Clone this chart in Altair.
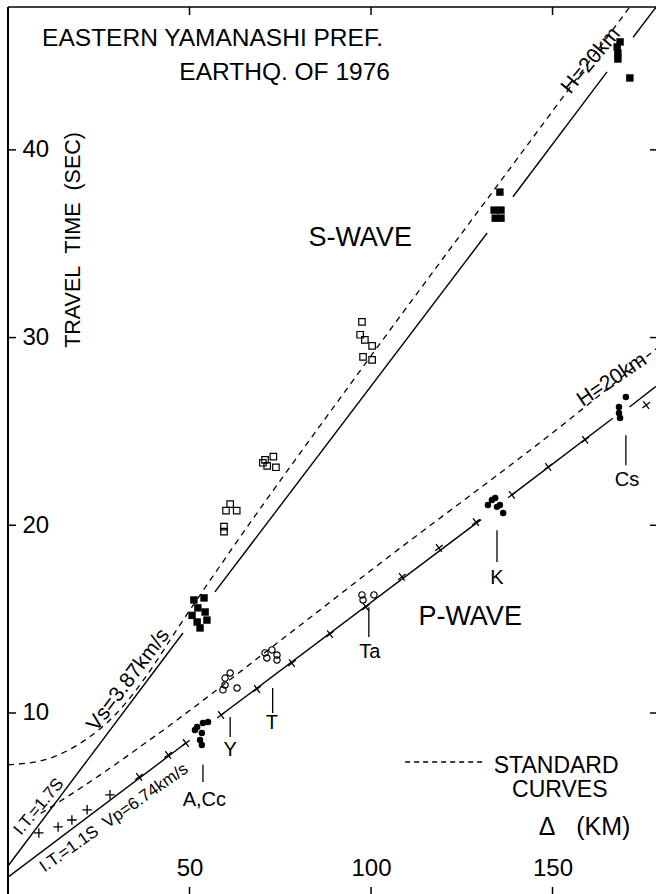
import altair as alt
import pandas as pd

FONT = "Liberation Sans"
NB = "\u00a0"

# ---------------- data (Δ in km, travel time in s) -------------
s_fill_d = [51.2, 54.0, 52.3, 50.7, 54.3, 52.1, 54.8, 52.9,
            135.5, 133.9, 135.8, 134.2, 135.8,
            168.6, 167.8, 168.0, 168.0, 171.3]
s_fill_t = [16.02, 16.13, 15.60, 15.20, 15.38, 14.85, 14.95, 14.53,
            37.75, 36.79, 36.79, 36.36, 36.36,
            45.75, 45.48, 45.16, 44.84, 43.83]
s_open_d = [59.5, 59.5, 60.05, 61.2, 63.0,
            70.8, 73.1, 71.4, 73.8, 70.2,
            97.5, 97.0, 98.3, 100.3, 97.8, 100.3]
s_open_t = [19.93, 19.66, 20.78, 21.13, 20.78,
            23.48, 23.66, 23.16, 23.09, 23.33,
            30.84, 30.15, 29.88, 29.56, 28.97, 28.81]

p_fill_d = [52.1, 53.7, 55.1, 51.5, 53.4, 52.9, 53.4,
            133.3, 134.2, 135.5, 134.7, 136.4, 132.2,
            170.2, 168.3, 168.3, 168.6]
p_fill_t = [9.25, 9.47, 9.52, 9.09, 8.93, 8.56, 8.30,
            21.35, 21.45, 21.08, 20.98, 20.66, 21.08,
            26.83, 26.30, 25.98, 25.72]
p_open_d = [61.2, 59.8, 59.8, 59.2, 63.1,
            70.8, 72.7, 74.1, 71.3, 74.1,
            97.5, 97.8, 100.8]
p_open_t = [12.13, 11.86, 11.49, 11.23, 11.33,
            13.20, 13.36, 13.09, 12.93, 12.82,
            16.29, 16.02, 16.29]

s_line_seg = [1, 1, 2, 2, 3, 3, 4, 4]
s_line_d = [0.0, 48.2, 57.0, 132.0, 139.1, 165.0, 172.2, 178.5]
s_line_t = [1.85, 14.26, 16.45, 35.57, 37.50, 44.15, 46.00, 47.60]
p_line_seg = [1, 1, 2, 2, 3, 3, 4, 4]
p_line_d = [0.0, 49.0, 58.7, 130.3, 138.8, 166.6, 171.2, 178.5]
p_line_t = [1.25, 8.40, 9.89, 20.30, 21.62, 25.70, 26.30, 27.40]

cross_up_d = [8.5, 13.8, 17.6, 21.8, 28.1]
cross_up_t = [3.61, 3.93, 4.30, 4.84, 5.64]
cross_on_d = [36.1, 44.1, 49.0, 58.7, 68.6, 78.2, 88.7, 98.6,
              108.5, 118.7, 128.9, 138.8, 148.8, 159.0, 175.8]
cross_on_t = [6.60, 7.77, 8.40, 9.89, 11.28, 12.66, 14.20, 15.64,
              17.25, 18.79, 20.17, 21.62, 23.11, 24.55, 26.40]

std_s_d = [0, 10, 20, 30, 40, 45, 59, 95, 144, 178.5]
std_s_t = [7.24, 7.5, 8.4, 10.0, 12.5, 14.0, 18.0, 27.7, 40.5, 49.5]
std_p_d = [9, 20, 40, 80, 100, 157, 178.5]
std_p_t = [4.65, 6.0, 8.7, 14.6, 17.6, 26.0, 29.4]
legend_d = [109.4, 131.7]
legend_t = [7.39, 7.39]

st_name = ["A,Cc", "Y", "T", "Ta", "K", "Cs"]
st_d = [53.7, 61.2, 72.9, 99.4, 134.7, 170.2]
st_top = [7.24, 9.79, 11.33, 15.63, 19.74, 24.80]
st_bot = [6.33, 8.72, 10.00, 14.05, 18.04, 23.20]
st_lab_d = [54.1, 61.2, 72.7, 99.7, 134.7, 170.5]
st_lab_t = [5.38, 8.04, 9.47, 13.25, 17.19, 22.40]

ann_text = ["EASTERN YAMANASHI PREF.", "EARTHQ. OF 1976", "S-WAVE", "P-WAVE",
            f"TRAVEL{NB}{NB}TIME{NB}{NB}(SEC)", "H=20km", "H=20km", "Vs=3.87km/s",
            "I.T.=1.7S", f"I.T.=1.1S{NB}{NB}Vp=6.74km/s", "STANDARD", "CURVES",
            f"Δ{NB}{NB}{NB}(KM)"]
ann_d = [9.4, 105.2, 97.0, 127.3, 18.2, 160.6, 166.4, 33.2, 8.5, 29.2, 151.0, 152.0, 158.8]
ann_t = [45.9, 44.07, 35.3, 15.1, 35.2, 44.75, 27.74, 11.75, 5.0, 4.41, 7.18, 5.9, 3.93]
ann_size = [24.5, 24.5, 27, 27, 21.5, 21, 21, 21, 17, 17, 23, 23, 25]
ann_angle = [0, 0, 0, 0, 270, 310, 326, 307, 310, 325, 0, 0, 0]
ann_align = ["left", "right", "center", "center", "center", "center", "center",
             "center", "center", "center", "center", "center", "center"]

x_ticks = [50, 100, 150]
y_ticks = [10, 20, 30, 40]

W, H = 648, 887
xs = alt.Scale(domain=[0, 178.5], nice=False, zero=False)
ys = alt.Scale(domain=[0.357, 47.61], nice=False, zero=False)

ax_bottom = alt.Axis(orient="bottom", values=x_ticks, domain=False, grid=False,
                     ticks=False,
                     labelFont=FONT, labelFontSize=24, labelColor="black",
                     labelBaseline="alphabetic", labelPadding=-19, labelFlush=False,
                     title=None)
ax_left = alt.Axis(orient="left", values=y_ticks, domain=False, grid=False,
                   ticks=False, labelFont=FONT, labelFontSize=24,
                   labelColor="black", labelAlign="left", labelBaseline="middle",
                   labelPadding=-14, labelFlush=False, title=None)


def X(field="d"):
    return alt.X(f"{field}:Q", scale=xs, axis=ax_bottom, title=None)


def Y(field="t"):
    return alt.Y(f"{field}:Q", scale=ys, axis=ax_left, title=None)


s_line_df = pd.DataFrame({"d": s_line_d, "t": s_line_t, "seg": s_line_seg})
p_line_df = pd.DataFrame({"d": p_line_d, "t": p_line_t, "seg": p_line_seg})

s_line = alt.Chart(s_line_df).mark_line(color="black", strokeWidth=1.4, clip=True).encode(
    x=X(), y=Y(), detail="seg:N")
p_line = alt.Chart(p_line_df).mark_line(color="black", strokeWidth=1.4, clip=True).encode(
    x=X(), y=Y(), detail="seg:N")

dash = [6, 5]
std_s = alt.Chart(pd.DataFrame({"d": std_s_d, "t": std_s_t})).mark_line(
    color="black", strokeWidth=1.3, strokeDash=dash, interpolate="monotone", clip=True
).encode(x=X(), y=Y())
std_p = alt.Chart(pd.DataFrame({"d": std_p_d, "t": std_p_t})).mark_line(
    color="black", strokeWidth=1.3, strokeDash=dash, interpolate="monotone", clip=True
).encode(x=X(), y=Y())
legend_line = alt.Chart(pd.DataFrame({"d": legend_d, "t": legend_t})).mark_line(
    color="black", strokeWidth=1.3, strokeDash=[5, 4]
).encode(x=X(), y=Y())

PLUS = "M-1,0L1,0M0,-1L0,1"
cross_up = alt.Chart(pd.DataFrame({"d": cross_up_d, "t": cross_up_t})).mark_point(
    shape=PLUS, filled=False, stroke="black", strokeWidth=1.3, size=90, opacity=1
).encode(x=X(), y=Y())
cross_on = alt.Chart(pd.DataFrame({"d": cross_on_d, "t": cross_on_t})).mark_point(
    shape=PLUS, filled=False, stroke="black", strokeWidth=1.3, size=90, opacity=1, angle=323
).encode(x=X(), y=Y())

s_fill = alt.Chart(pd.DataFrame({"d": s_fill_d, "t": s_fill_t})).mark_point(
    shape="square", filled=True, color="black", size=55, opacity=1
).encode(x=X(), y=Y())
s_open = alt.Chart(pd.DataFrame({"d": s_open_d, "t": s_open_t})).mark_point(
    shape="square", filled=False, color="black", strokeWidth=1.2, size=42, opacity=1
).encode(x=X(), y=Y())
p_fill = alt.Chart(pd.DataFrame({"d": p_fill_d, "t": p_fill_t})).mark_point(
    shape="circle", filled=True, color="black", size=42, opacity=1
).encode(x=X(), y=Y())
p_open = alt.Chart(pd.DataFrame({"d": p_open_d, "t": p_open_t})).mark_point(
    shape="circle", filled=False, color="black", strokeWidth=1.2, size=40, opacity=1
).encode(x=X(), y=Y())

st_df = pd.DataFrame({"name": st_name, "d": st_d, "t": st_top, "bot": st_bot})
st_rule = alt.Chart(st_df).mark_rule(color="black", strokeWidth=1.3).encode(
    x=X(), y=Y(), y2="bot:Q")
st_lab_df = pd.DataFrame({"name": st_name, "d": st_lab_d, "t": st_lab_t})
st_text = alt.Chart(st_lab_df).mark_text(
    font=FONT, fontSize=20, color="black", align="center", baseline="middle"
).encode(x=X(), y=Y(), text="name:N")

# frame (left and top borders) and inward ticks, drawn as short rules
frame_left = alt.Chart().mark_rule(color="black", strokeWidth=2).encode(
    x=alt.value(0), y=alt.value(0), y2=alt.value(H))
frame_top = alt.Chart().mark_rule(color="black", strokeWidth=1.5).encode(
    x=alt.value(0), x2=alt.value(W), y=alt.value(0))
xt_df = pd.DataFrame({"d": x_ticks})
yt_df = pd.DataFrame({"t": y_ticks})
tick_bottom = alt.Chart(xt_df).mark_rule(color="black", strokeWidth=1.5).encode(
    x=X(), y=alt.value(H - 7), y2=alt.value(H))
tick_top = alt.Chart(xt_df).mark_rule(color="black", strokeWidth=1.5).encode(
    x=X(), y=alt.value(0), y2=alt.value(8))
tick_left = alt.Chart(yt_df).mark_rule(color="black", strokeWidth=1.5).encode(
    y=Y(), x=alt.value(0), x2=alt.value(8))
tick_right = alt.Chart(yt_df).mark_rule(color="black", strokeWidth=1.5).encode(
    y=Y(), x=alt.value(W - 6), x2=alt.value(W))

ann_df = pd.DataFrame({"label": ann_text, "d": ann_d, "t": ann_t, "size": ann_size,
                       "angle": ann_angle, "align": ann_align})


def ann_layer(al):
    return alt.Chart(ann_df).transform_filter(alt.datum.align == al).mark_text(
        font=FONT, color="black", align=al, baseline="middle"
    ).encode(x=X(), y=Y(), text="label:N",
             size=alt.Size("size:Q", scale=None, legend=None),
             angle=alt.Angle("angle:Q", scale=None))


chart = alt.layer(
    s_line, st_rule, p_line, std_s, std_p, legend_line, cross_up, cross_on,
    s_fill, s_open, p_fill, p_open, st_text,
    tick_bottom, tick_top, tick_left, tick_right, frame_left, frame_top,
    ann_layer("left"), ann_layer("right"), ann_layer("center")
).properties(
    width=W, height=H,
    autosize=alt.AutoSizeParams(type="none"),
    padding={"left": 8, "top": 7, "right": 0, "bottom": 0},
    background="white",
).configure_view(stroke=None)

chart.save("out.html", embed_options={"renderer": "svg", "actions": False})
